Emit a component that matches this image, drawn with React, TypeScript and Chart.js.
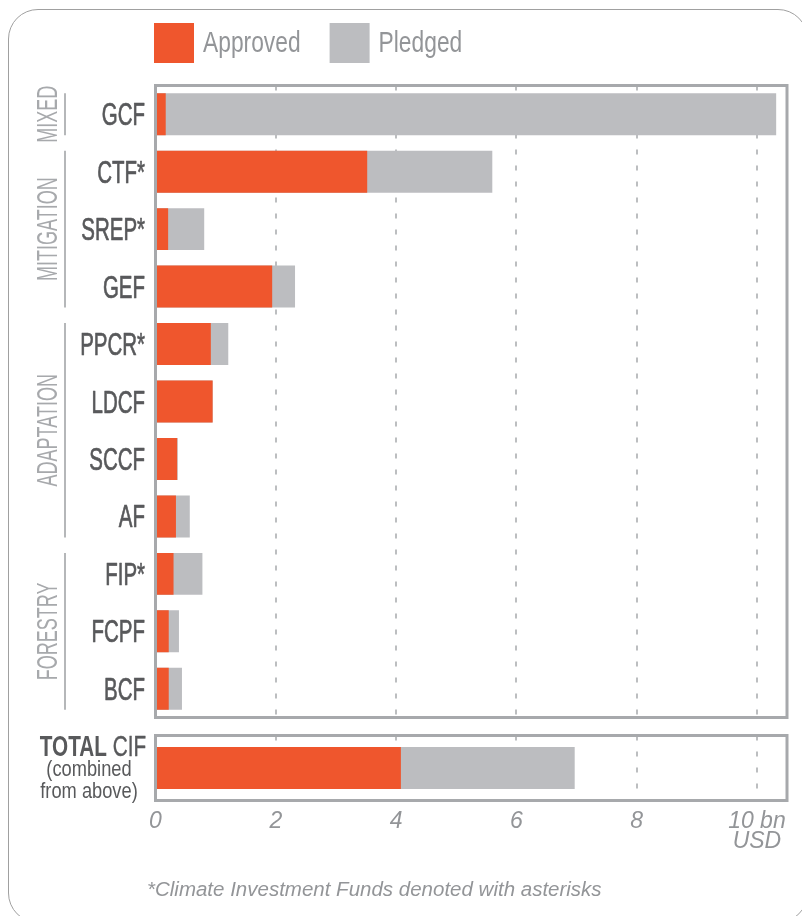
import React, { useEffect, useRef } from "react";
import { Chart, registerables } from "chart.js";

Chart.register(...registerables);

// ---------- data ----------
const categories = ["GCF", "CTF*", "SREP*", "GEF", "PPCR*", "LDCF", "SCCF", "AF", "FIP*", "FCPF", "BCF"];
const approved = [0.17, 3.52, 0.21, 1.94, 0.92, 0.95, 0.36, 0.34, 0.3, 0.22, 0.22];
const pledged = [10.32, 5.6, 0.81, 2.32, 1.21, 0.95, 0.37, 0.57, 0.78, 0.39, 0.44];

const groupNames = ["MIXED", "MITIGATION", "ADAPTATION", "FORESTRY"];
const groupFirst = [0, 1, 4, 8];
const groupLast = [0, 3, 7, 10];

const totalTitleBold = "TOTAL";
const totalTitleRest = " CIF";
const totalNote = ["(combined", "from above)"];
const totalCategory = [totalTitleBold + totalTitleRest];
const totalApproved = [4.08];
const totalPledged = [6.97];

const seriesNames = ["Approved", "Pledged"];
const xTicks = [0, 2, 4, 6, 8, 10];
const xTickLabels: (string | string[])[] = ["0", "2", "4", "6", "8", ["10 bn", "USD"]];
const footnote = "*Climate Investment Funds denoted with asterisks";

// ---------- styles ----------
const ORANGE = "#EF562D";
const GRAY = "#BCBDC0";
const FRAME = "#A7A9AC";
const GRID = "#BCBEC0";
const DARK = "#58595B";
const LIGHT = "#939598";
const SANS = '"Liberation Sans", Arial, sans-serif';

const W = 802;
const PLOT_LEFT = 155.5;
const PLOT_RIGHT = 787;
const X_MAX = 10.5;
const TOP_H = 728;
const BOT_TOP = 720;
const BOT_H = 196;

// draw horizontally condensed text (the original uses a condensed typeface)
function condensedText(
  ctx: CanvasRenderingContext2D,
  text: string,
  x: number,
  y: number,
  sx: number,
  align: CanvasTextAlign,
  strokeW = 0
) {
  ctx.save();
  ctx.translate(x, y);
  ctx.scale(sx, 1);
  ctx.textAlign = align;
  ctx.fillText(text, 0, 0);
  if (strokeW > 0) {
    ctx.strokeStyle = ctx.fillStyle as string;
    ctx.lineWidth = strokeW;
    ctx.lineJoin = "round";
    ctx.strokeText(text, 0, 0);
  }
  ctx.restore();
}

const framePlugin = {
  id: "frame",
  afterDatasetsDraw(chart: any) {
    const { ctx, chartArea: a } = chart;
    ctx.save();
    ctx.strokeStyle = FRAME;
    ctx.lineWidth = 3;
    ctx.strokeRect(a.left, a.top, a.right - a.left, a.bottom - a.top);
    ctx.restore();
  },
};

const legendPlugin = {
  id: "customLegend",
  afterDraw(chart: any) {
    const { ctx } = chart;
    const size = 40;
    const top = 23;
    const sx = 0.76;
    let x = chart.chartArea.left - 1.5;
    ctx.save();
    ctx.font = `30px ${SANS}`;
    ctx.textBaseline = "alphabetic";
    chart.data.datasets.forEach((ds: any) => {
      ctx.fillStyle = ds.backgroundColor;
      ctx.fillRect(x, top, size, size);
      x += size + 9;
      ctx.fillStyle = LIGHT;
      condensedText(ctx, ds.label, x, 52, sx, "left");
      x += ctx.measureText(ds.label).width * sx + 29;
    });
    ctx.restore();
  },
};

const yLabelPlugin = {
  id: "yLabels",
  afterDraw(chart: any) {
    const { ctx } = chart;
    const yS = chart.scales.y;
    ctx.save();
    ctx.font = `31px ${SANS}`;
    ctx.fillStyle = DARK;
    ctx.textBaseline = "alphabetic";
    (chart.data.labels as string[]).forEach((lab, i) => {
      const y = yS.getPixelForValue(i);
      condensedText(ctx, lab, 145, y + 11, 0.66, "right", 0.7);
    });
    ctx.restore();
  },
};

const groupPlugin = {
  id: "groups",
  afterDraw(chart: any) {
    const { ctx } = chart;
    const yS = chart.scales.y;
    const meta = chart.getDatasetMeta(0);
    ctx.save();
    groupNames.forEach((name, g) => {
      const el: any = meta.data[groupFirst[g]];
      const half = el && el.height ? el.height / 2 : 21;
      const y1 = yS.getPixelForValue(groupFirst[g]) - half;
      const y2 = yS.getPixelForValue(groupLast[g]) + half;
      ctx.strokeStyle = "#9D9FA2";
      ctx.lineWidth = 1.5;
      ctx.beginPath();
      ctx.moveTo(65, y1);
      ctx.lineTo(65, y2);
      ctx.stroke();
      ctx.save();
      ctx.translate(57, (y1 + y2) / 2);
      ctx.rotate(-Math.PI / 2);
      ctx.scale(0.6, 1);
      ctx.font = `30px ${SANS}`;
      ctx.fillStyle = FRAME;
      ctx.textAlign = "center";
      ctx.textBaseline = "alphabetic";
      ctx.fillText(name, 0, 0);
      ctx.restore();
    });
    ctx.restore();
  },
};

const totalLabelPlugin = {
  id: "totalLabel",
  afterDraw(chart: any) {
    const { ctx } = chart;
    const y = chart.scales.y.getPixelForValue(0);
    const cx = 93;
    const sx = 0.715;
    ctx.save();
    ctx.fillStyle = DARK;
    ctx.textBaseline = "alphabetic";
    ctx.font = `bold 29px ${SANS}`;
    const w1 = ctx.measureText(totalTitleBold).width * sx;
    ctx.font = `29px ${SANS}`;
    const w2 = ctx.measureText(totalTitleRest).width * sx;
    const start = cx - (w1 + w2) / 2;
    const base1 = y - 22.5 + 10.5;
    ctx.font = `bold 29px ${SANS}`;
    condensedText(ctx, totalTitleBold, start, base1, sx, "left");
    ctx.font = `29px ${SANS}`;
    condensedText(ctx, totalTitleRest, start + w1, base1, sx, "left", 0.4);
    ctx.font = `22px ${SANS}`;
    totalNote.forEach((line, i) => {
      condensedText(ctx, line, cx - 4, y + 2 + i * 22 + 6, 0.83, "center");
    });
    // footnote under the axis
    ctx.font = `italic 20.5px ${SANS}`;
    ctx.fillStyle = LIGHT;
    ctx.textAlign = "left";
    ctx.textBaseline = "middle";
    ctx.fillText(footnote, 147, 170);
    ctx.restore();
  },
};

function xScale(showLabels: boolean): any {
  return {
    type: "linear",
    min: 0,
    max: X_MAX,
    afterBuildTicks: (s: any) => {
      s.ticks = xTicks.map((v) => ({ value: v }));
    },
    grid: { color: GRID, lineWidth: 2, drawTicks: false },
    border: { display: false, dash: [5, 11] },
    ticks: showLabels
      ? {
          autoSkip: false,
          maxRotation: 0,
          padding: 11.5,
          color: LIGHT,
          font: { family: SANS, size: 23, style: "italic", lineHeight: 0.87 },
          callback: (_v: any, i: number) => xTickLabels[i],
        }
      : { display: false },
  };
}

const yHidden = (): any => ({
  grid: { display: false, drawTicks: false },
  border: { display: false },
  ticks: { display: false },
  afterFit: (s: any) => {
    s.width = PLOT_LEFT;
    s.paddingTop = 0;
    s.paddingBottom = 0;
  },
});

export default function App() {
  const topRef = useRef<HTMLCanvasElement>(null);
  const botRef = useRef<HTMLCanvasElement>(null);

  useEffect(() => {
    const top = new Chart(topRef.current as HTMLCanvasElement, {
      type: "bar",
      data: {
        labels: categories,
        datasets: [
          { label: seriesNames[0], data: approved, backgroundColor: ORANGE },
          { label: seriesNames[1], data: pledged, backgroundColor: GRAY },
        ],
      },
      options: {
        indexAxis: "y",
        responsive: false,
        animation: false,
        devicePixelRatio: 1,
        events: [],
        layout: { padding: { top: 85.5, right: W - PLOT_RIGHT, bottom: TOP_H - 717.5, left: 0 } },
        datasets: { bar: { grouped: false, barPercentage: 0.73, categoryPercentage: 1 } },
        plugins: { legend: { display: false }, tooltip: { enabled: false } },
        scales: {
          x: {
            ...xScale(false),
            afterFit: (s: any) => {
              s.height = 0;
            },
          },
          y: yHidden(),
        },
      } as any,
      plugins: [framePlugin, yLabelPlugin, groupPlugin, legendPlugin],
    });

    const bottom = new Chart(botRef.current as HTMLCanvasElement, {
      type: "bar",
      data: {
        labels: totalCategory,
        datasets: [
          { label: seriesNames[0], data: totalApproved, backgroundColor: ORANGE },
          { label: seriesNames[1], data: totalPledged, backgroundColor: GRAY },
        ],
      },
      options: {
        indexAxis: "y",
        responsive: false,
        animation: false,
        devicePixelRatio: 1,
        events: [],
        layout: { padding: { top: 15.5, right: W - PLOT_RIGHT, bottom: 0, left: 0 } },
        datasets: { bar: { grouped: false, barPercentage: 42 / 65, categoryPercentage: 1 } },
        plugins: { legend: { display: false }, tooltip: { enabled: false } },
        scales: {
          x: {
            ...xScale(true),
            afterFit: (s: any) => {
              s.height = BOT_H - 80.5;
            },
          },
          y: yHidden(),
        },
      } as any,
      plugins: [framePlugin, totalLabelPlugin],
    });

    return () => {
      top.destroy();
      bottom.destroy();
    };
  }, []);

  return (
    <div
      style={{
        position: "absolute",
        left: 0,
        top: 0,
        width: W,
        height: 916,
        overflow: "hidden",
        background: "#ffffff",
      }}
    >
      <div
        style={{
          position: "absolute",
          left: 8,
          top: 9,
          width: 800,
          height: 914,
          border: "1.5px solid #A0A0A0",
          borderRadius: 30,
          boxSizing: "border-box",
        }}
      />
      <canvas
        ref={topRef}
        width={W}
        height={TOP_H}
        style={{ position: "absolute", left: 0, top: 0, width: W, height: TOP_H, display: "block" }}
      />
      <canvas
        ref={botRef}
        width={W}
        height={BOT_H}
        style={{ position: "absolute", left: 0, top: BOT_TOP, width: W, height: BOT_H, display: "block" }}
      />
    </div>
  );
}
